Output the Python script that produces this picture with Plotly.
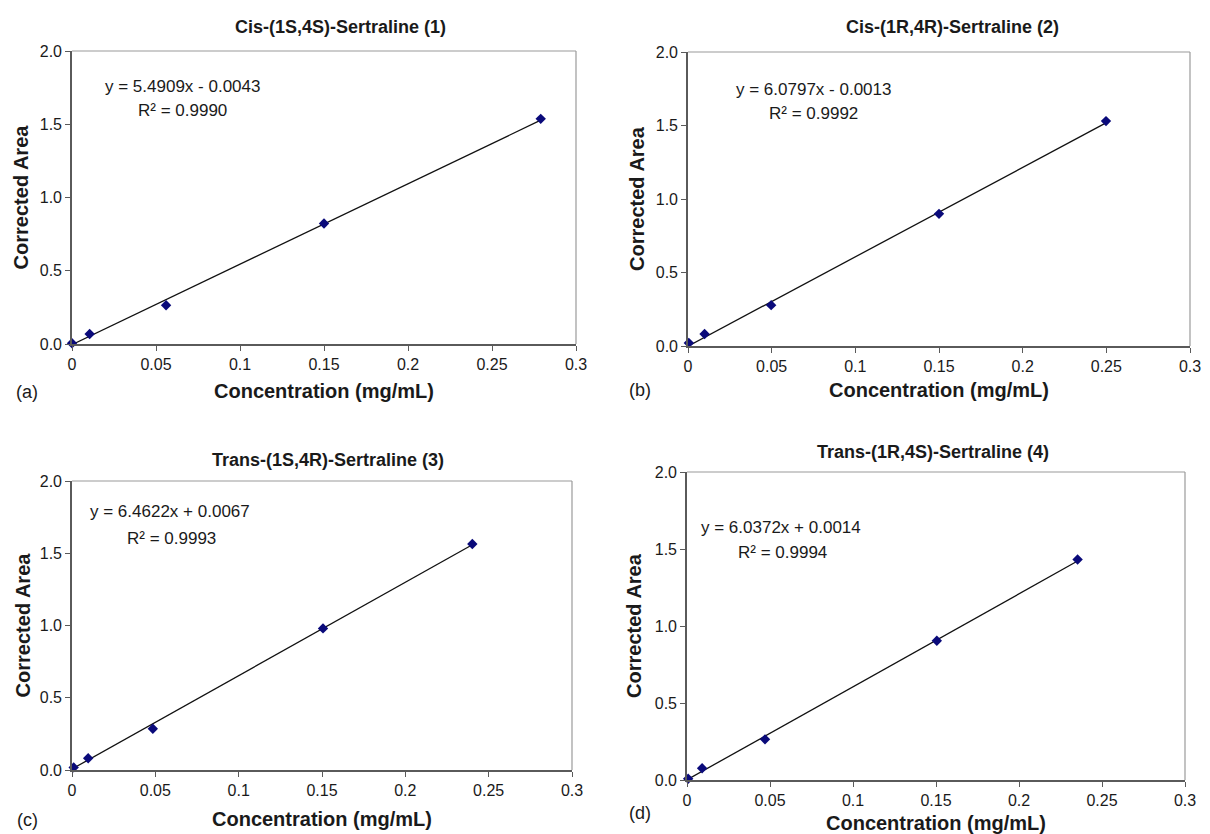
import plotly.graph_objects as go

W, H = 1210, 834

# ---------------- data ----------------
titles = ["Cis-(1S,4S)-Sertraline (1)", "Cis-(1R,4R)-Sertraline (2)",
          "Trans-(1S,4R)-Sertraline (3)", "Trans-(1R,4S)-Sertraline (4)"]
panel_labels = ["(a)", "(b)", "(c)", "(d)"]
x_title = "Concentration (mg/mL)"
y_title = "Corrected Area"

conc_1 = [0.0, 0.0105, 0.056, 0.15, 0.279]
area_1 = [0.005, 0.068, 0.265, 0.823, 1.537]
conc_2 = [0.0005, 0.0099, 0.0497, 0.15, 0.2498]
area_2 = [0.02, 0.082, 0.278, 0.899, 1.53]
conc_3 = [0.001, 0.0097, 0.0485, 0.1506, 0.2402]
area_3 = [0.018, 0.081, 0.285, 0.980, 1.564]
conc_4 = [0.0007, 0.0091, 0.047, 0.1505, 0.2353]
area_4 = [0.008, 0.076, 0.264, 0.904, 1.432]

slopes = [5.4909, 6.0797, 6.4622, 6.0372]
intercepts = [-0.0043, -0.0013, 0.0067, 0.0014]
r_squared = ["0.9990", "0.9992", "0.9993", "0.9994"]

x_tickvals = [0, 0.05, 0.1, 0.15, 0.2, 0.25, 0.3]
x_ticktext = ["0", "0.05", "0.1", "0.15", "0.2", "0.25", "0.3"]
y_tickvals = [0, 0.5, 1.0, 1.5, 2.0]
y_ticktext = ["0.0", "0.5", "1.0", "1.5", "2.0"]

concs = [conc_1, conc_2, conc_3, conc_4]
areas = [area_1, area_2, area_3, area_4]

# ---------------- layout geometry (pixels) ----------------
# plot boxes: x0, x1, y_top, y_bottom
boxes = [(72, 576, 51, 344), (688, 1190, 52, 346),
         (72, 572, 481, 770), (687, 1185, 472, 780)]
title_pos = [(340, 27), (952, 27), (328, 460), (933, 452)]
label_pos = [(27, 392), (640, 390), (27, 820), (640, 813)]
eq_pos = [(182, 86), (813, 89), (170, 512), (781, 527)]
r2_pos = [(182, 110), (813, 113), (171, 538), (782, 552)]
xtitle_standoff = [12, 9, 14, 9]
ytitle_standoff = [6, 6, 4, 8]

FONT = "Liberation Sans, Arial, Helvetica, sans-serif"
TXT = "#1a1a1a"


def px(x):
    return x / W


def py(y):
    return 1 - y / H


fig = go.Figure()
annotations = []
shapes = []

for i in range(4):
    n = "" if i == 0 else str(i + 1)
    xa, ya = "x" + n, "y" + n
    x0, x1, yt, yb = boxes[i]

    # trendline from the regression equation shown on the chart
    xs_line = [0.0, concs[i][-1]]
    ys_line = [slopes[i] * v + intercepts[i] for v in xs_line]
    fig.add_trace(go.Scatter(x=xs_line, y=ys_line, mode="lines",
                             line=dict(color="#111111", width=1.3),
                             xaxis=xa, yaxis=ya, showlegend=False,
                             hoverinfo="skip"))
    fig.add_trace(go.Scatter(x=concs[i], y=areas[i], mode="markers",
                             marker=dict(symbol="diamond", size=8,
                                         color="#0a0a7a"),
                             xaxis=xa, yaxis=ya, showlegend=False,
                             cliponaxis=False))

    axis_common = dict(showgrid=False, zeroline=False, showline=True,
                       linecolor="#5a5a5a", linewidth=1.6, ticks="outside",
                       ticklen=5, tickwidth=1.2, tickcolor="#5a5a5a",
                       tickfont=dict(family=FONT, size=16, color=TXT),
                       mirror=False, fixedrange=True, automargin=False)
    fig.layout["xaxis" + n] = dict(
        axis_common, domain=[px(x0), px(x1)], range=[0, 0.3], anchor=ya,
        tickvals=x_tickvals, ticktext=x_ticktext,
        title=dict(text="<b>" + x_title + "</b>", standoff=xtitle_standoff[i],
                   font=dict(family=FONT, size=20, color=TXT)))
    fig.layout["yaxis" + n] = dict(
        axis_common, domain=[py(yb), py(yt)], range=[0, 2.0], anchor=xa,
        tickvals=y_tickvals, ticktext=y_ticktext,
        title=dict(text="<b>" + y_title + "</b>", standoff=ytitle_standoff[i],
                   font=dict(family=FONT, size=20, color=TXT)))

    # light grey top/right frame
    shapes.append(dict(type="line", xref=xa + " domain", yref=ya + " domain",
                       x0=0, x1=1, y0=1, y1=1,
                       line=dict(color="#9a9a9a", width=1.2)))
    shapes.append(dict(type="line", xref=xa + " domain", yref=ya + " domain",
                       x0=1, x1=1, y0=0, y1=1,
                       line=dict(color="#9a9a9a", width=1.2)))

    tx, ty = title_pos[i]
    annotations.append(dict(text="<b>" + titles[i] + "</b>", x=px(tx), y=py(ty),
                            xref="paper", yref="paper", showarrow=False,
                            xanchor="center", yanchor="middle",
                            font=dict(family=FONT, size=18, color=TXT)))
    tx, ty = label_pos[i]
    annotations.append(dict(text=panel_labels[i], x=px(tx), y=py(ty),
                            xref="paper", yref="paper", showarrow=False,
                            xanchor="center", yanchor="middle",
                            font=dict(family=FONT, size=18, color=TXT)))
    sign = "-" if intercepts[i] < 0 else "+"
    eq = "y = %.4fx %s %.4f" % (slopes[i], sign, abs(intercepts[i]))
    tx, ty = eq_pos[i]
    annotations.append(dict(text=eq, x=px(tx), y=py(ty),
                            xref="paper", yref="paper", showarrow=False,
                            xanchor="center", yanchor="middle",
                            font=dict(family=FONT, size=17, color=TXT)))
    tx, ty = r2_pos[i]
    annotations.append(dict(text="R\u00b2 = " + r_squared[i], x=px(tx), y=py(ty),
                            xref="paper", yref="paper", showarrow=False,
                            xanchor="center", yanchor="middle",
                            font=dict(family=FONT, size=17, color=TXT)))

fig.update_layout(width=W, height=H, margin=dict(l=0, r=0, t=0, b=0),
                  paper_bgcolor="white", plot_bgcolor="white",
                  showlegend=False, annotations=annotations, shapes=shapes,
                  font=dict(family=FONT, color=TXT))

fig.write_html("out.html", config={"displayModeBar": False})
